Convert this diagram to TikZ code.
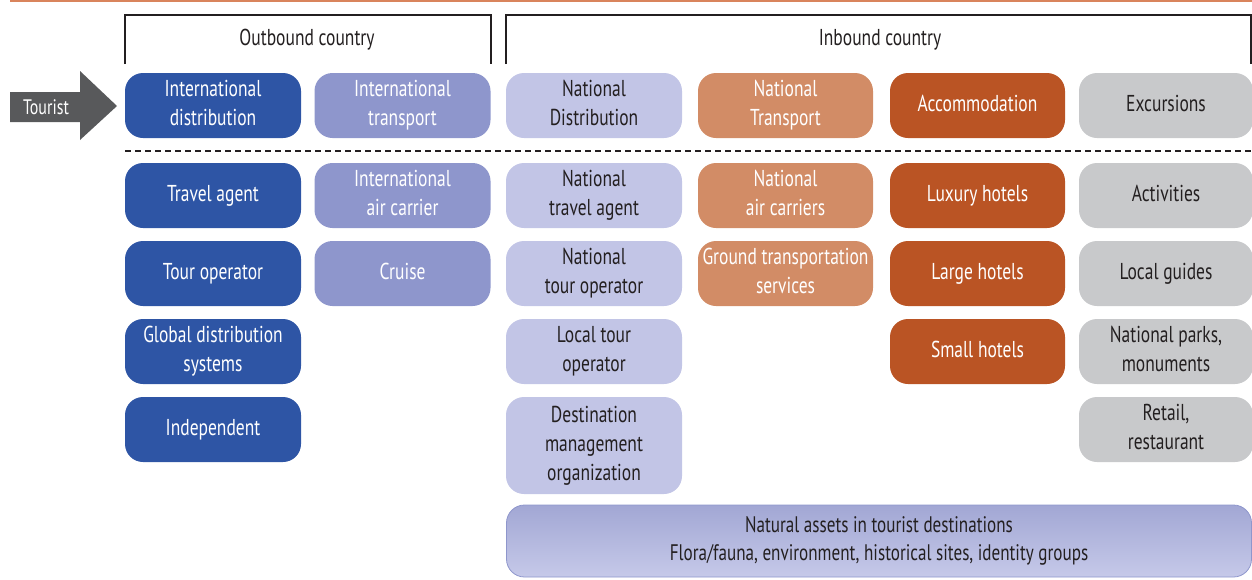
\documentclass[tikz,border=0pt]{standalone}
\usepackage{fontspec}
\setmainfont[FakeStretch=0.76]{PT Sans}
\definecolor{topline}{HTML}{D9845C}
\definecolor{cDark}{HTML}{2E55A5}
\definecolor{cMid}{HTML}{8E96CC}
\definecolor{cLight}{HTML}{C2C5E6}
\definecolor{cSalmon}{HTML}{D28C66}
\definecolor{cRust}{HTML}{BA5424}
\definecolor{cGray}{HTML}{C8C9CB}
\definecolor{cArrow}{HTML}{58595B}
\definecolor{cInk}{HTML}{231F20}
\definecolor{cGradTop}{HTML}{A2A7D4}
\definecolor{cGradBot}{HTML}{C6C9E9}
\newcommand{\tabtxt}[1]{\begin{tabular}{@{}c@{}}#1\end{tabular}}
\begin{document}
\begin{tikzpicture}[x=1pt,y=-1pt,
  base/.style={rounded corners=18pt, minimum width=176pt, minimum height=65pt,
    inner sep=0pt, font=\fontsize{23}{29}\selectfont},
  bDark/.style={base, fill=cDark, text=white},
  bMid/.style={base, fill=cMid, text=white},
  bLight/.style={base, fill=cLight, text=cInk},
  bSalmon/.style={base, fill=cSalmon, text=white},
  bRust/.style={base, fill=cRust, text=white},
  bGray/.style={base, fill=cGray, text=cInk},
  bracket/.style={draw=cInk, line width=2pt},
  lbl/.style={font=\fontsize{23}{28}\selectfont, text=cInk, inner sep=0pt}]
\useasboundingbox (0,0) rectangle (1252,579);
% top line
\draw[topline, line width=1.5pt] (10,0.75) -- (1252,0.75);
% brackets
\draw[bracket] (125,64) -- (125,15) -- (491,15) -- (491,64);
\draw[bracket] (506,64) -- (506,15) -- (1251,15) -- (1251,64);
\node[lbl] (outb) at (307,40) {Outbound country};
\node[lbl] (inb) at (880,40) {Inbound country};
% tourist arrow
\fill[cArrow] (10,92) -- (80,92) -- (80,71) -- (117,106) -- (80,140) -- (80,122) -- (10,122) -- cycle;
\node[text=white, inner sep=0pt, font=\fontsize{21}{25}\selectfont] (tourist) at (46,107) {Tourist};
% dashed line
\draw[cInk, line width=2.5pt, dash pattern=on 6pt off 4pt] (125,151) -- (1252,151);
% row 1
\node[bDark] (intdist) at (213,105.5) {\tabtxt{International\\distribution}};
\node[bMid] (inttrans) at (402.5,105.5) {\tabtxt{International\\transport}};
\node[bLight] (natdist) at (594,105.5) {\tabtxt{National\\Distribution}};
\node[bSalmon, minimum width=175pt] (nattrans) at (785.5,105.5) {\tabtxt{National\\Transport}};
\node[bRust, minimum width=175pt] (accom) at (977.5,105.5) {\tabtxt{Accommodation}};
\node[bGray, minimum width=174pt] (excur) at (1166,105.5) {\tabtxt{Excursions}};
% row 2
\node[bDark] (travag) at (213,195.5) {\tabtxt{Travel agent}};
\node[bMid] (aircar) at (402.5,195.5) {\tabtxt{International\\air carrier}};
\node[bLight] (nattravag) at (594,195.5) {\tabtxt{National\\travel agent}};
\node[bSalmon, minimum width=175pt] (nataircar) at (785.5,195.5) {\tabtxt{National\\air carriers}};
\node[bRust, minimum width=175pt] (luxury) at (977.5,195.5) {\tabtxt{Luxury hotels}};
\node[bGray, minimum width=174pt] (activ) at (1166,195.5) {\tabtxt{Activities}};
% row 3
\node[bDark] (tourop) at (213,273.5) {\tabtxt{Tour operator}};
\node[bMid] (cruise) at (402.5,273.5) {\tabtxt{Cruise}};
\node[bLight] (nattourop) at (594,273.5) {\tabtxt{National\\tour operator}};
\node[bSalmon, minimum width=175pt] (ground) at (785.5,273.5) {\tabtxt{Ground transportation\\services}};
\node[bRust, minimum width=175pt] (large) at (977.5,273.5) {\tabtxt{Large hotels}};
\node[bGray, minimum width=174pt] (guides) at (1166,273.5) {\tabtxt{Local guides}};
% row 4
\node[bDark] (gds) at (213,351.5) {\tabtxt{Global distribution\\systems}};
\node[bLight] (loctourop) at (594,351.5) {\tabtxt{Local tour\\operator}};
\node[bRust, minimum width=175pt] (small) at (977.5,351.5) {\tabtxt{Small hotels}};
\node[bGray, minimum width=174pt] (parks) at (1166,351.5) {\tabtxt{National parks,\\monuments}};
% row 5
\node[bDark] (indep) at (213,429.5) {\tabtxt{Independent}};
\node[bLight, minimum height=97pt] (dmo) at (594,445.5) {\tabtxt{Destination\\management\\organization}};
\node[bGray, minimum width=174pt] (retail) at (1166,429.5) {\tabtxt{Retail,\\restaurant}};
% bottom
\node[base, minimum width=745pt, minimum height=72pt, top color=cGradTop, bottom color=cGradBot,
  draw=cMid, line width=0.8pt, text=cInk, font=\fontsize{22.5}{28}\selectfont] (natural) at (879,541)
  {\tabtxt{Natural assets in tourist destinations\\Flora/fauna, environment, historical sites, identity groups}};
\end{tikzpicture}
\end{document}
